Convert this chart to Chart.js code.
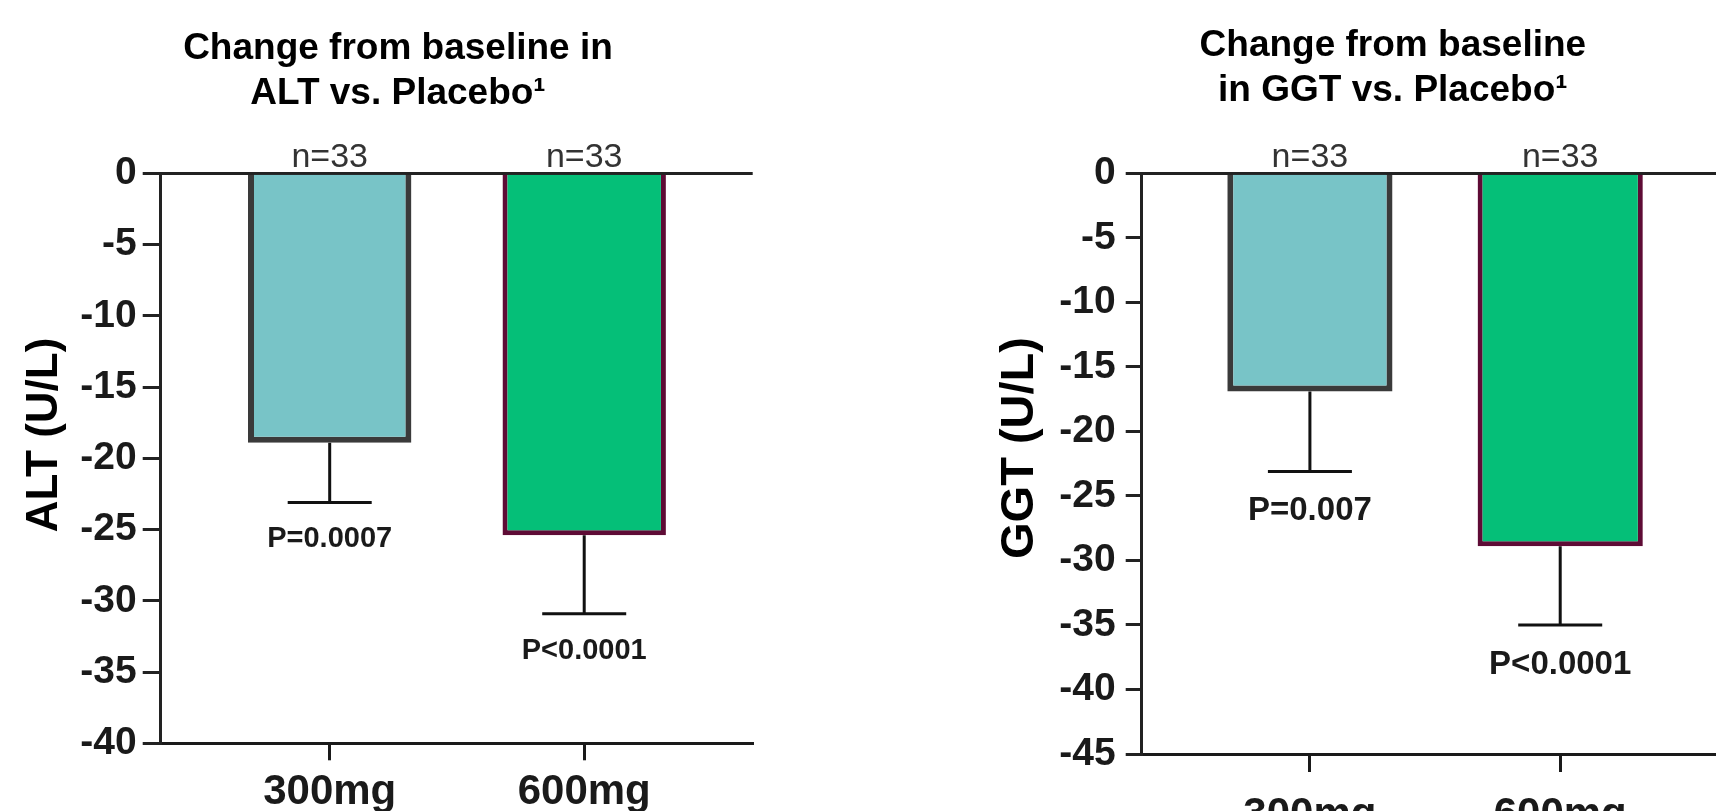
<!DOCTYPE html>
<html>
<head>
<title>Change from baseline in ALT and GGT vs. Placebo</title>
<script src="https://cdn.jsdelivr.net/npm/chart.js"></script>
<style>
  html, body { margin: 0; padding: 0; background: #fff; overflow: hidden; }
  .panel { position: absolute; top: 0; height: 811px; }
</style>
</head>
<body>
<div class="panel" style="left:0;width:858px"><canvas id="altChart" width="858" height="811"></canvas></div>
<div class="panel" style="left:858px;width:936px"><canvas id="ggtChart" width="936" height="811"></canvas></div>
<script>
// Data
const doses = ['300mg', '600mg'];
const nLabels = ['n=33', 'n=33'];

const altMeans = [-18.9, -25.4];      // bar ends (U/L)
const altErrEnds = [-23.1, -30.9];    // lower whisker ends
const altP = ['P=0.0007', 'P<0.0001'];

const ggtMeans = [-16.9, -28.9];
const ggtErrEnds = [-23.1, -35.0];
const ggtP = ['P=0.007', 'P<0.0001'];

const FONT = '"Liberation Sans", Arial, Helvetica, sans-serif';
const INK = '#1a1a1a';
const barFill = ['#78c4c7', '#05bf78'];
const barEdge = ['#3a3a3a', '#5e0b35'];

Chart.defaults.font.family = FONT;
Chart.defaults.color = INK;

// error bars, n labels, p values and the rotated y title
const barNotes = {
  id: 'barNotes',
  afterDatasetsDraw(chart, args, o) {
    const {ctx, scales: {y}} = chart;
    const zero = y.getPixelForValue(0);
    ctx.save();
    chart.getDatasetMeta(0).data.forEach((bar, i) => {
      const cx = bar.x;
      const yErr = y.getPixelForValue(o.errEnds[i]);
      ctx.strokeStyle = '#111';
      ctx.lineWidth = 3;
      ctx.beginPath();
      ctx.moveTo(cx, bar.y);
      ctx.lineTo(cx, yErr);
      ctx.moveTo(cx - o.capHalf, yErr);
      ctx.lineTo(cx + o.capHalf, yErr);
      ctx.stroke();

      ctx.textAlign = 'center';
      ctx.textBaseline = 'alphabetic';
      ctx.fillStyle = '#333';
      ctx.font = `${o.nSize}px ${FONT}`;
      ctx.fillText(nLabels[i], cx, zero - 6);

      ctx.fillStyle = INK;
      ctx.font = `bold ${o.pSize}px ${FONT}`;
      ctx.fillText(o.pLabels[i], cx, yErr + o.pGap);
    });

    ctx.translate(o.yTitleX, o.yTitleY);
    ctx.rotate(-Math.PI / 2);
    ctx.textAlign = 'center';
    ctx.textBaseline = 'middle';
    ctx.fillStyle = '#000';
    ctx.font = `bold ${o.yTitleSize}px ${FONT}`;
    ctx.fillText(o.yTitle, 0, 0);
    ctx.restore();
  }
};

function makeChart(id, cfg) {
  return new Chart(document.getElementById(id), {
    type: 'bar',
    data: {
      datasets: [{
        data: cfg.means.map((v, i) => ({x: i + 1, y: v})),
        backgroundColor: barFill,
        borderColor: barEdge,
        borderWidth: [6, 5],
        barPercentage: cfg.barPct,
        categoryPercentage: 1
      }]
    },
    options: {
      responsive: false,
      animation: false,
      layout: {padding: cfg.pad},
      plugins: {
        legend: {display: false},
        tooltip: {enabled: false},
        title: {
          display: true,
          text: cfg.title,
          color: '#000',
          font: {size: 37, weight: 'bold', lineHeight: 1.2},
          padding: cfg.titlePad
        },
        barNotes: {
          errEnds: cfg.errEnds, pLabels: cfg.pLabels,
          capHalf: 42, nSize: 34, pSize: cfg.pSize, pGap: cfg.pGap,
          yTitle: cfg.yTitle, yTitleSize: cfg.yTitleSize,
          yTitleX: cfg.yTitleX, yTitleY: cfg.yTitleY
        }
      },
      scales: {
        x: {
          type: 'linear',
          offset: false,
          bounds: 'data',
          min: cfg.xMin, max: cfg.xMax,
          afterBuildTicks: s => { s.ticks = doses.map((_, i) => ({value: i + 1})); },
          afterFit: s => { s.height = cfg.xAxisH; },
          grid: {offset: false, drawOnChartArea: false, color: INK, lineWidth: 3, tickLength: cfg.xTickLen},
          border: {color: INK, width: 3},
          ticks: {
            callback: (v, i) => doses[i],
            font: {size: 42, weight: 'bold'},
            color: INK,
            padding: cfg.xLabelPad,
            maxRotation: 0,
            autoSkip: false
          }
        },
        y: {
          min: cfg.yMin, max: 0, z: 1,
          afterFit: s => { s.width = cfg.yAxisW; },
          ticks: {stepSize: 5, font: {size: 39, weight: 'bold'}, color: INK, padding: cfg.yLabelPad},
          grid: {
            color: c => (c.tick && c.tick.value === 0 ? '#222' : 'rgba(0,0,0,0)'),
            tickColor: '#222',
            lineWidth: 3,
            tickLength: cfg.yTickLen
          },
          border: {color: '#222', width: 3}
        }
      }
    },
    plugins: [barNotes]
  });
}

makeChart('altChart', {
  means: altMeans, errEnds: altErrEnds, pLabels: altP,
  title: ['Change from baseline in', 'ALT vs. Placebo\u00B9'],
  yTitle: 'ALT (U/L)', yTitleSize: 44, yTitleX: 45, yTitleY: 435,
  yMin: -40, xMin: 0.336, xMax: 2.662, barPct: 0.642,
  pad: {left: 43.3, right: 105.3, top: 0, bottom: 0},
  titlePad: {top: 26.8, bottom: 57.7},
  yAxisW: 117.4, yTickLen: 18, yLabelPad: 6,
  xAxisH: 67.7, xTickLen: 17, xLabelPad: 7,
  pSize: 29, pGap: 45
});

makeChart('ggtChart', {
  means: ggtMeans, errEnds: ggtErrEnds, pLabels: ggtP,
  title: ['Change from baseline', 'in GGT vs. Placebo\u00B9'],
  yTitle: 'GGT (U/L)', yTitleSize: 47, yTitleX: 162, yTitleY: 448,
  yMin: -45, xMin: 0.328, xMax: 2.934, barPct: 0.66,
  pad: {left: 133.7, right: 0, top: 0, bottom: 0},
  titlePad: {top: 24, bottom: 60.5},
  yAxisW: 150, yTickLen: 16, yLabelPad: 10,
  xAxisH: 57, xTickLen: 18, xLabelPad: 18,
  pSize: 33, pGap: 49
});
</script>
</body>
</html>
